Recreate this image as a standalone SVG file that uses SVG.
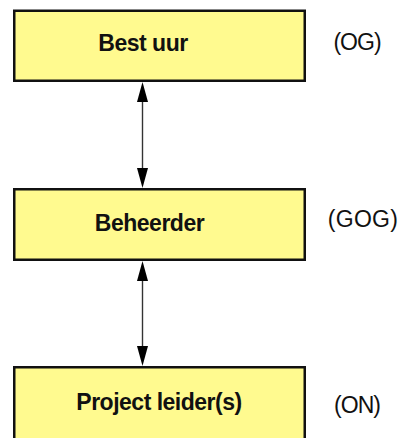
<svg xmlns="http://www.w3.org/2000/svg" width="400" height="438" viewBox="0 0 400 438">
<defs>
<style>
.box{fill:#fffa8f;stroke:#111;stroke-width:2.5}
.lbl{font-family:"Liberation Sans",Arial,sans-serif;font-weight:bold;font-size:23px;fill:#111;text-anchor:middle;letter-spacing:-0.5px}
.tag{font-family:"Liberation Sans",Arial,sans-serif;font-size:23px;fill:#111;text-anchor:middle;letter-spacing:-1px}
.conn{stroke:#333;stroke-width:1.4;fill:none;marker-start:url(#ah);marker-end:url(#ah)}
</style>
<marker id="ah" markerUnits="userSpaceOnUse" markerWidth="20" markerHeight="12" refX="0" refY="5.5" orient="auto-start-reverse" viewBox="0 0 20 11">
<path d="M0,0 L20,5.5 L0,11 Z" fill="#000"/>
</marker>
</defs>
<rect width="400" height="438" fill="#fff"/>
<g id="connectors">
<line class="conn" x1="142.5" y1="102" x2="142.5" y2="168"/>
<line class="conn" x1="142.5" y1="281" x2="142.5" y2="346"/>
</g>
<g id="node-bestuur">
<rect class="box" x="14.25" y="10.75" width="290.5" height="70"/>
<text class="lbl" x="143" y="51">Best uur</text>
</g>
<g id="node-beheerder">
<rect class="box" x="14.25" y="189.25" width="290.5" height="70.5"/>
<text class="lbl" x="149.5" y="231">Beheerder</text>
</g>
<g id="node-projectleider">
<rect class="box" x="14.25" y="367.25" width="290.5" height="80"/>
<text class="lbl" x="159" y="410">Project leider(s)</text>
</g>
<g id="tag-og"><text class="tag" x="357" y="50">(OG)</text></g>
<g id="tag-gog"><text class="tag" x="363" y="227" style="letter-spacing:0.3px">(GOG)</text></g>
<g id="tag-on"><text class="tag" x="357" y="413">(ON)</text></g>
</svg>
